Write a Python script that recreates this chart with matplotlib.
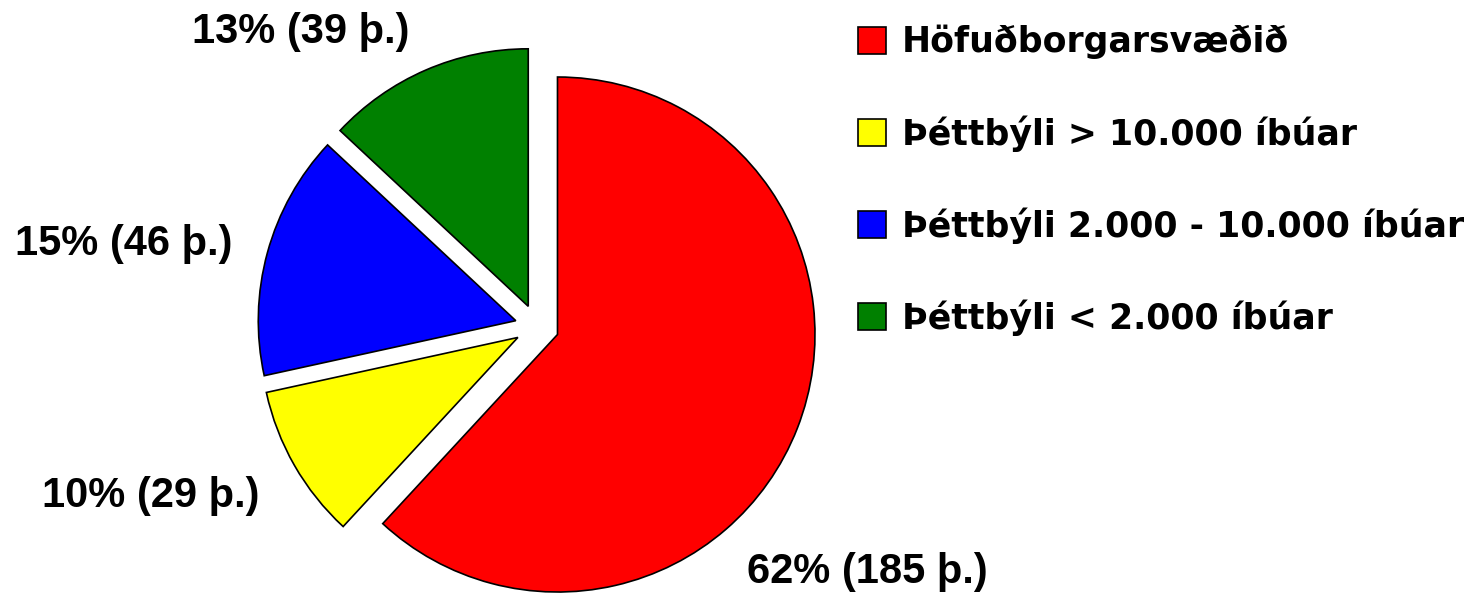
import matplotlib.pyplot as plt

# fjoldi (thusund) eftir svaedi
regions = ['Höfuðborgarsvæðið', 'Þéttbýli > 10.000 íbúar',
           'Þéttbýli 2.000 - 10.000 íbúar', 'Þéttbýli < 2.000 íbúar']
counts = [185, 29, 46, 39]
colors = ['#ff0000', '#ffff00', '#0000ff', '#008000']

# label placement in pixels (left x, baseline y from top)
label_pos = [(747, 583), (42, 507), (15, 255), (192, 43)]

W, H = 1475, 596
fig = plt.figure(figsize=(W / 100, H / 100), dpi=100)
ax = fig.add_axes([0, 0, 1, 1])

# explode is in data units here (pixels), not a fraction of radius
wedges, _ = ax.pie(counts, colors=colors, startangle=90, counterclock=False,
                   explode=[22] * len(counts), radius=257.5,
                   center=(537, H - 326.5), frame=True,
                   wedgeprops=dict(edgecolor='black', linewidth=1.2))
ax.set_xlim(0, W)
ax.set_ylim(0, H)
ax.set_aspect('equal')
ax.axis('off')

total = sum(counts)
for c, (x, y) in zip(counts, label_pos):
    ax.text(x, H - y, f'{round(100 * c / total)}% ({c} þ.)',
            ha='left', va='baseline', fontsize=30, fontweight='bold',
            family='Liberation Sans')

fig.legend(wedges, regions, loc='upper left',
           bbox_to_anchor=(858 / W, 1 - 25 / H), frameon=False,
           borderpad=0, borderaxespad=0,
           handlelength=0.8, handleheight=0.8, handletextpad=0.46,
           labelspacing=1.6,
           prop=dict(family='DejaVu Sans', weight='bold', size=25))

fig.savefig('out.png', dpi=100)
